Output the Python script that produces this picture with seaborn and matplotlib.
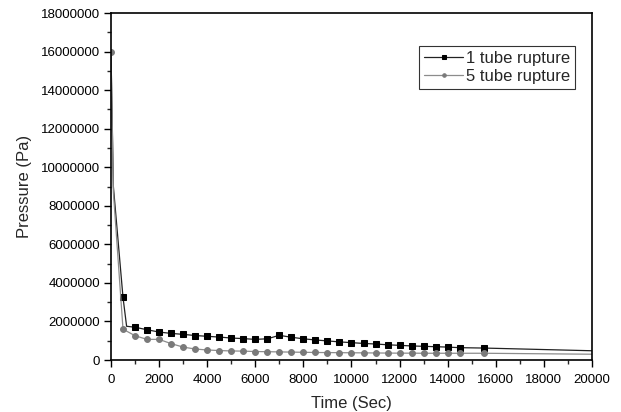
import matplotlib
matplotlib.use("Agg")
import matplotlib.pyplot as plt
from matplotlib.ticker import MultipleLocator
import seaborn as sns
import pandas as pd

# 1 tube rupture (times in s, pressure in Pa)
t1 = [0, 100, 500, 650, 1000, 1500, 2000, 2500, 3000, 3500, 4000, 4500, 5000,
      5500, 6000, 6500, 7000, 7500, 8000, 8500, 9000, 9500, 10000, 10500,
      11000, 11500, 12000, 12500, 13000, 13500, 14000, 14500, 15500, 20000]
p1 = [16000000, 9000000, 3250000, 1750000, 1700000, 1570000, 1450000, 1380000,
      1330000, 1270000, 1230000, 1190000, 1140000, 1110000, 1070000, 1100000,
      1280000, 1180000, 1100000, 1040000, 990000, 940000, 900000, 860000,
      830000, 790000, 760000, 730000, 710000, 690000, 670000, 640000, 620000,
      480000]
m1 = [2] + list(range(4, 33))

# 5 tube rupture
t2 = [0, 100, 500, 1000, 1500, 2000, 2500, 3000, 3500, 4000, 4500, 5000, 5500,
      6000, 6500, 7000, 7500, 8000, 8500, 9000, 9500, 10000, 10500, 11000,
      11500, 12000, 12500, 13000, 13500, 14000, 14500, 15500, 20000]
p2 = [16000000, 8700000, 1600000, 1260000, 1070000, 1070000, 850000, 670000,
      570000, 520000, 490000, 470000, 460000, 440000, 430000, 420000, 410000,
      400000, 390000, 385000, 380000, 375000, 370000, 365000, 360000, 355000,
      355000, 350000, 350000, 350000, 350000, 350000, 300000]
m2 = [0] + list(range(2, 32))

labels = ["1 tube rupture", "5 tube rupture"]

sns.set_style("white")
plt.rcParams['font.family'] = ['Liberation Sans', 'DejaVu Sans']

fig = plt.figure(figsize=(6.21, 4.12), dpi=100)
ax = fig.add_axes([0.1787, 0.1262, 0.7746, 0.8422])

df1 = pd.DataFrame({"t": t1, "p": p1})
df2 = pd.DataFrame({"t": t2, "p": p2})

sns.lineplot(data=df1, x="t", y="p", ax=ax, color="#222222", lw=0.9,
             marker="s", markersize=4.2, markerfacecolor="black",
             markeredgecolor="black", markevery=m1, label=labels[0],
             estimator=None, sort=False)
sns.lineplot(data=df2, x="t", y="p", ax=ax, color="#8c8c8c", lw=0.9,
             marker="o", markersize=4.2, markerfacecolor="#7a7a7a",
             markeredgecolor="#7a7a7a", markevery=m2, label=labels[1],
             estimator=None, sort=False)

ax.set_xlim(0, 20000)
ax.set_ylim(0, 18000000)
ax.xaxis.set_major_locator(MultipleLocator(2000))
ax.xaxis.set_minor_locator(MultipleLocator(1000))
ax.yaxis.set_major_locator(MultipleLocator(2000000))
ax.yaxis.set_minor_locator(MultipleLocator(1000000))
ax.ticklabel_format(style="plain", useOffset=False)

ax.tick_params(axis="both", which="major", direction="out", length=5,
               width=1, labelsize=9.5, colors="black",
               bottom=True, left=True, top=False, right=False)
ax.tick_params(axis="x", which="major", pad=5)
ax.tick_params(axis="y", which="major", pad=3)
ax.tick_params(axis="both", which="minor", direction="out", length=3,
               width=1, bottom=True, left=True, top=False, right=False)
for s in ax.spines.values():
    s.set_color("black")
    s.set_linewidth(1.2)

ax.set_xlabel("Time (Sec)", fontsize=12, labelpad=7)
ax.set_ylabel("Pressure (Pa)", fontsize=12, labelpad=6)

leg = ax.legend(loc="upper right", bbox_to_anchor=(0.965, 0.905), fontsize=12,
                frameon=True, fancybox=False, handlelength=2.3,
                handletextpad=0.2, borderpad=0.3, labelspacing=0.2,
                markerscale=0.6, borderaxespad=0)
leg.get_frame().set_edgecolor("black")
leg.get_frame().set_linewidth(0.8)

fig.savefig("out.png", dpi=100)
